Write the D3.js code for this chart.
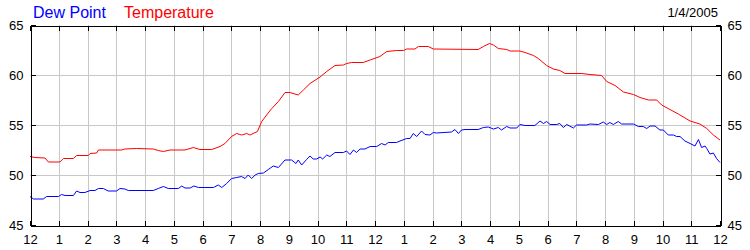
<!DOCTYPE html>
<html>
<head>
<meta charset="utf-8">
<script src="https://cdn.jsdelivr.net/npm/d3@7"></script>
<style>
  body { margin: 0; background: #fff; }
  svg { display: block; font-family: "Liberation Sans", Arial, sans-serif; }
  .grid line { stroke: #c8c8c8; stroke-width: 1; shape-rendering: crispEdges; }
  .axis path, .axis line { stroke: #000; shape-rendering: crispEdges; }
  .axis text { fill: #000; font-size: 13px; }
</style>
</head>
<body>
<div id="chart"></div>
<script>
// hour of day (0 = midnight) and value
var temperature = [
  [0, 51.85], [0.17, 51.75], [0.52, 51.7], [0.64, 51.3], [1.04, 51.3], [1.16, 51.65],
  [1.51, 51.65], [1.62, 51.95], [2.03, 51.95], [2.09, 52.15], [2.32, 52.2], [2.38, 52.5],
  [3.19, 52.5], [3.3, 52.6], [3.71, 52.65], [4.29, 52.6], [4.46, 52.45], [4.64, 52.35],
  [4.87, 52.5], [5.39, 52.5], [5.68, 52.75], [5.91, 52.55], [6.32, 52.55], [6.61, 52.85],
  [6.78, 53.15], [7.01, 53.85], [7.19, 54.15], [7.36, 54.0], [7.54, 54.15], [7.65, 54.0],
  [7.91, 54.35], [8.06, 55.35], [8.23, 56.0], [8.41, 56.65], [8.64, 57.35], [8.87, 58.25],
  [9.04, 58.25], [9.33, 58.0], [9.51, 58.5], [9.74, 59.15], [10.09, 59.8], [10.32, 60.35],
  [10.61, 60.95], [10.9, 61.0], [11.01, 61.15], [11.19, 61.25], [11.59, 61.25], [11.83, 61.5],
  [12.17, 61.85], [12.41, 62.35], [12.75, 62.45], [12.99, 62.45], [13.1, 62.6], [13.39, 62.6],
  [13.51, 62.85], [13.85, 62.85], [14.03, 62.6], [15.59, 62.55], [15.77, 62.85], [15.98, 63.15],
  [16.12, 63.0], [16.29, 62.65], [16.58, 62.55], [16.7, 62.4], [17.04, 62.4], [17.22, 62.25],
  [17.51, 61.95], [17.68, 61.65], [17.97, 60.95], [18.2, 60.6], [18.43, 60.45], [18.61, 60.15],
  [19.19, 60.15], [19.48, 60.05], [19.88, 59.95], [20.06, 59.35], [20.35, 58.95], [20.64, 58.3],
  [20.99, 58.05], [21.22, 57.75], [21.51, 57.5], [21.8, 57.5], [21.97, 57.0], [22.26, 56.55],
  [22.55, 56.1], [22.96, 55.4], [23.3, 55.1], [23.54, 54.65], [23.77, 54.0], [24, 53.5]
];

var dewPoint = [
  [0, 47.85], [0.12, 47.6], [0.46, 47.6], [0.58, 47.85], [0.99, 47.85], [1.1, 48.05],
  [1.22, 47.95], [1.51, 47.95], [1.62, 48.4], [1.74, 48.25], [1.91, 48.25], [2.09, 48.45],
  [2.26, 48.45], [2.38, 48.65], [2.55, 48.65], [2.72, 48.4], [3.01, 48.4], [3.13, 48.65],
  [3.3, 48.6], [3.42, 48.45], [4.29, 48.45], [4.46, 48.65], [4.64, 48.85], [4.81, 48.65],
  [5.16, 48.65], [5.28, 48.9], [5.39, 48.7], [5.57, 48.7], [5.7, 48.9], [5.86, 48.75],
  [6.38, 48.75], [6.55, 49.0], [6.67, 48.75], [6.84, 49.15], [7.01, 49.65], [7.19, 49.75],
  [7.36, 49.85], [7.48, 49.65], [7.59, 50.0], [7.71, 49.65], [7.83, 50.0], [7.94, 50.15],
  [8.12, 50.2], [8.29, 50.55], [8.46, 50.9], [8.64, 50.75], [8.87, 51.5], [9.1, 51.5],
  [9.25, 51.15], [9.33, 51.5], [9.45, 51.0], [9.62, 51.55], [9.74, 51.9], [9.85, 51.6],
  [9.97, 51.6], [10.09, 51.8], [10.18, 51.6], [10.32, 52.0], [10.43, 51.85], [10.61, 52.25],
  [10.9, 52.25], [11.01, 52.4], [11.13, 52.05], [11.25, 52.5], [11.36, 52.25], [11.48, 52.6],
  [11.65, 52.6], [11.83, 52.85], [12.06, 52.85], [12.23, 53.15], [12.35, 53.0], [12.46, 53.25],
  [12.75, 53.25], [12.87, 53.4], [13.1, 53.65], [13.22, 53.65], [13.33, 54.15], [13.45, 53.85],
  [13.62, 54.4], [13.74, 54.05], [13.91, 54.0], [14.03, 54.25], [14.14, 54.2], [14.66, 54.3],
  [14.78, 54.55], [14.9, 54.15], [15.01, 54.5], [15.13, 54.55], [15.59, 54.55], [15.77, 54.75],
  [15.94, 54.8], [16.12, 54.6], [16.29, 54.75], [16.4, 54.5], [16.58, 54.85], [16.7, 54.7],
  [16.93, 54.7], [17.04, 55.05], [17.22, 54.95], [17.56, 54.95], [17.74, 55.4], [17.86, 55.15],
  [17.97, 55.35], [18.09, 55.05], [18.32, 55.05], [18.43, 55.15], [18.55, 54.75], [18.67, 55.05],
  [18.9, 54.7], [19.01, 55.0], [19.36, 55.0], [19.48, 55.1], [19.77, 55.05], [19.94, 55.3],
  [20.06, 55.05], [20.17, 55.25], [20.29, 55.05], [20.46, 55.35], [20.58, 55.1], [20.99, 55.1],
  [21.16, 54.85], [21.33, 54.85], [21.45, 54.65], [21.57, 54.9], [21.74, 54.9], [21.91, 54.5],
  [22.03, 54.5], [22.2, 54.0], [22.38, 54.0], [22.49, 53.85], [22.61, 53.85], [22.78, 53.4],
  [22.96, 53.15], [23.13, 52.9], [23.25, 53.55], [23.36, 52.75], [23.48, 52.9], [23.54, 52.65],
  [23.65, 52.1], [23.77, 52.2], [23.88, 51.65], [24, 51.25]
];

var hourTicks = d3.range(0, 25);
var hourLabels = ['12','1','2','3','4','5','6','7','8','9','10','11',
                  '12','1','2','3','4','5','6','7','8','9','10','11','12'];
var yTicks = [45, 50, 55, 60, 65];
var gridValues = [50, 55, 60];
var dateLabel = '1/4/2005';

var w = 750, h = 250;
var plotL = 30, plotR = 720, plotT = 25, plotB = 225;

var svg = d3.select('#chart').append('svg')
    .attr('width', w)
    .attr('height', h);

var x = d3.scaleLinear().domain([0, 24]).range([plotL, plotR]);
var y = d3.scaleLinear().domain([45, 65]).range([plotB, plotT]);

// grid
var grid = svg.append('g').attr('class', 'grid');
grid.selectAll('.vg')
    .data(hourTicks.slice(1, -1))
    .enter().append('line')
    .attr('x1', function(d) { return Math.round(x(d)) + 0.5; })
    .attr('x2', function(d) { return Math.round(x(d)) + 0.5; })
    .attr('y1', plotT).attr('y2', plotB);
grid.selectAll('.hg')
    .data(gridValues)
    .enter().append('line')
    .attr('x1', plotL).attr('x2', plotR)
    .attr('y1', function(d) { return y(d) + 0.5; })
    .attr('y2', function(d) { return y(d) + 0.5; });

// series
var line = d3.line()
    .x(function(d) { return x(d[0]); })
    .y(function(d) { return y(d[1]); });

svg.append('path')
    .datum(temperature)
    .attr('d', line)
    .attr('fill', 'none')
    .attr('stroke', '#ff0000')
    .attr('stroke-width', 1);

svg.append('path')
    .datum(dewPoint)
    .attr('d', line)
    .attr('fill', 'none')
    .attr('stroke', '#0000ff')
    .attr('stroke-width', 1);

// axes
var fmtHour = function(d) { return hourLabels[d]; };

svg.append('g').attr('class', 'axis')
    .attr('transform', 'translate(0,' + (plotB + 0.5) + ')')
    .call(d3.axisBottom(x).tickValues(hourTicks).tickFormat(fmtHour)
        .tickSizeInner(-5).tickSizeOuter(0).tickPadding(9));

svg.append('g').attr('class', 'axis')
    .attr('transform', 'translate(0,' + (plotT + 0.5) + ')')
    .call(d3.axisTop(x).tickValues(hourTicks).tickFormat('')
        .tickSizeInner(-5).tickSizeOuter(0));

svg.append('g').attr('class', 'axis')
    .attr('transform', 'translate(' + (plotL + 0.5) + ',0)')
    .call(d3.axisLeft(y).tickValues(yTicks)
        .tickSizeInner(-5).tickSizeOuter(0).tickPadding(7));

svg.append('g').attr('class', 'axis')
    .attr('transform', 'translate(' + (plotR + 0.5) + ',0)')
    .call(d3.axisRight(y).tickValues(yTicks)
        .tickSizeInner(-5).tickSizeOuter(0).tickPadding(7));

svg.selectAll('.axis text').attr('font-family', null).attr('font-size', null);

// title / legend
var title = svg.append('text')
    .attr('x', 33).attr('y', 18)
    .attr('font-size', 16);
title.append('tspan').attr('fill', '#0000ff').text('Dew Point');
title.append('tspan').attr('fill', '#ff0000').attr('x', 124).text('Temperature');

svg.append('text')
    .attr('x', 718).attr('y', 17)
    .attr('text-anchor', 'end')
    .attr('font-size', 13)
    .attr('fill', '#000')
    .text(dateLabel);
</script>
</body>
</html>
